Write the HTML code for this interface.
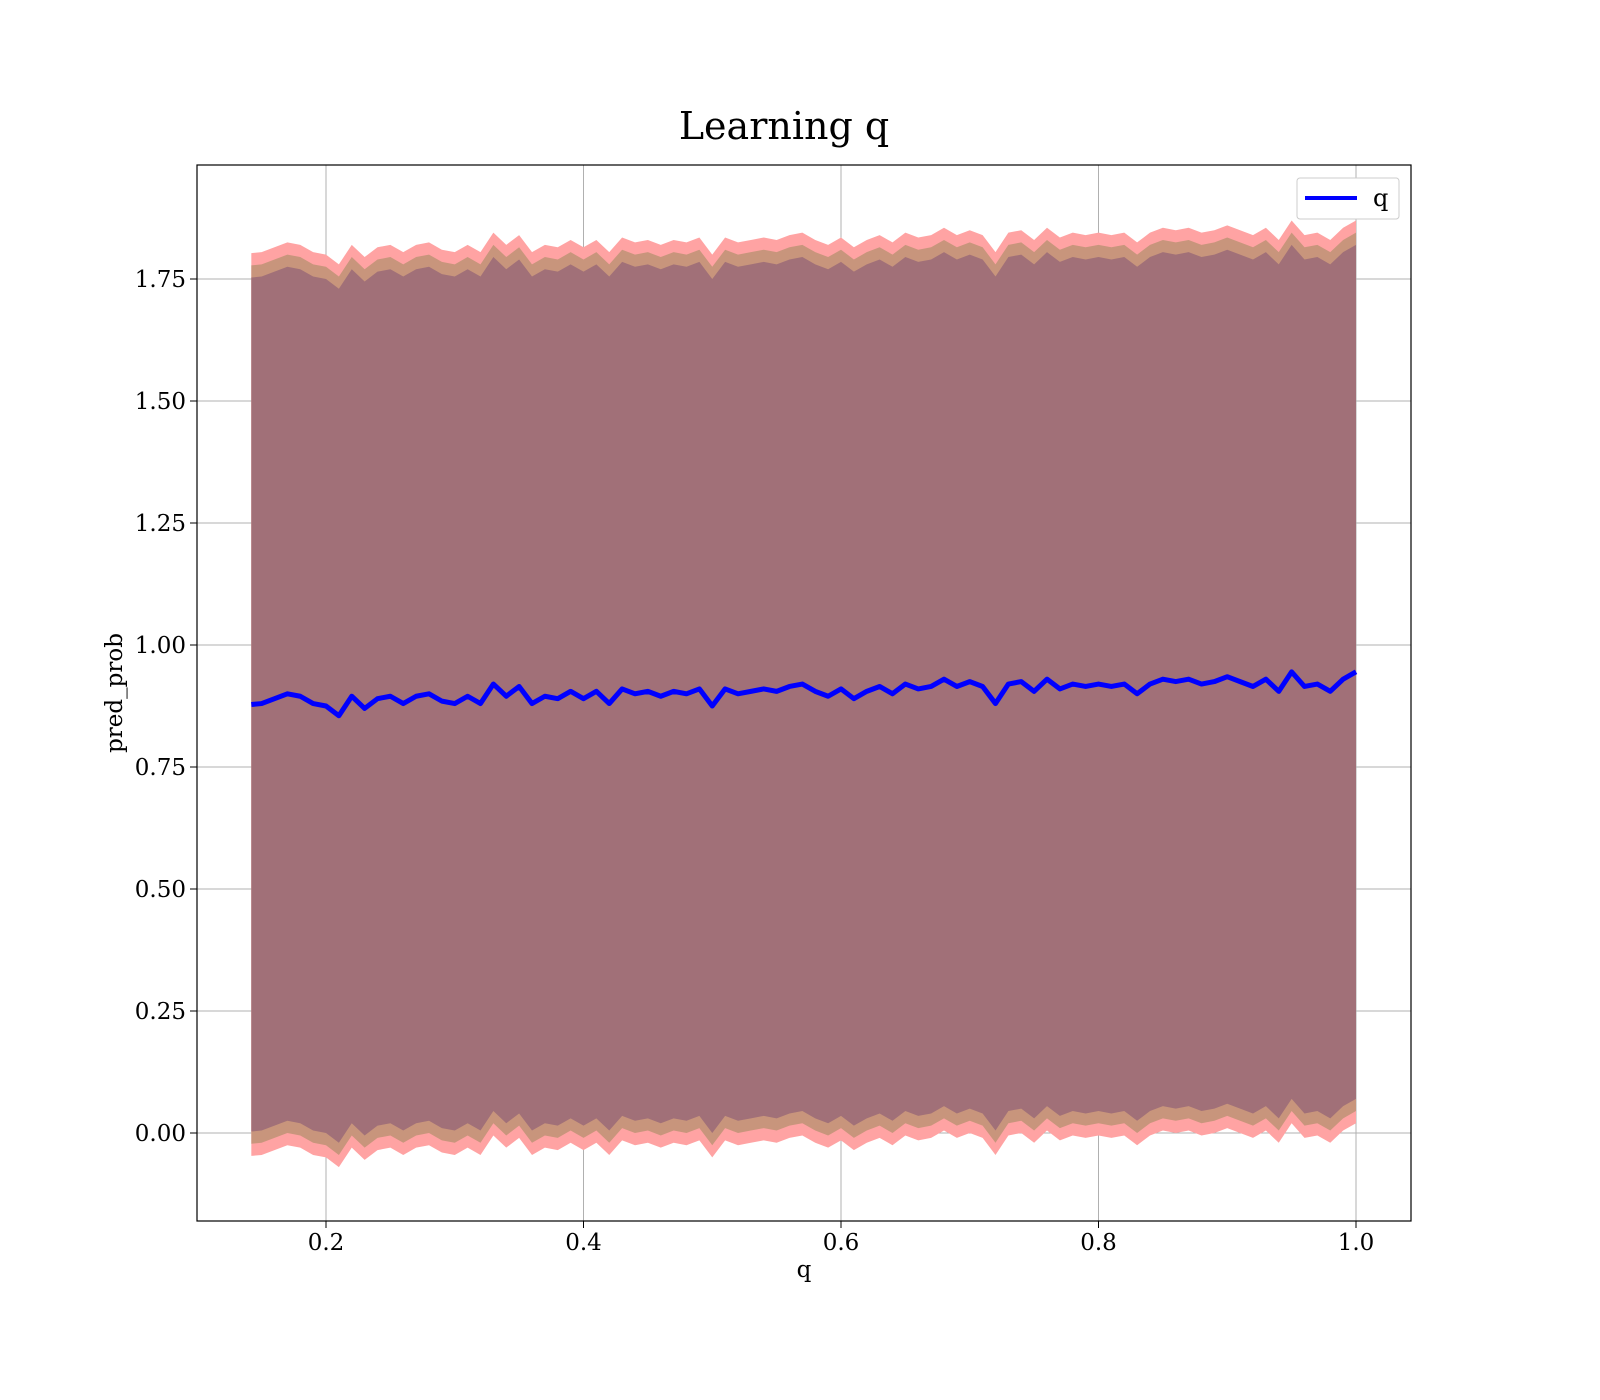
<!DOCTYPE html>
<html><head><meta charset="utf-8"><style>
body{margin:0;background:#fff}
svg{display:block;font-family:"DejaVu Serif","Liberation Serif",serif}
</style></head><body>
<svg id="chart" width="1600" height="1400">
<text x="784" y="139" font-size="38" text-anchor="middle">Learning q</text>
<g id="grid"></g>
<g id="bands"></g>
<g id="lines"></g>
<rect x="197" y="165" width="1214" height="1056" fill="none" stroke="#000" stroke-width="1.2"/>
<g id="ticks"></g>
<text x="804" y="1277" font-size="23" text-anchor="middle">q</text>
<text transform="translate(122,693) rotate(-90)" font-size="23" text-anchor="middle">pred_prob</text>
<g>
<rect x="1297" y="178" width="102" height="41" rx="3" fill="#fff" stroke="#ccc"/>
<line x1="1305" y1="198" x2="1357" y2="198" stroke="#0000ff" stroke-width="4"/>
<text x="1373" y="206" font-size="24">q</text>
</g>
</svg>
<script>
const qValues=[0.142,0.15,0.16,0.17,0.18,0.19,0.20,0.21,0.22,0.23,0.24,0.25,0.26,0.27,0.28,0.29,0.30,0.31,0.32,0.33,0.34,0.35,0.36,0.37,0.38,0.39,0.40,0.41,0.42,0.43,0.44,0.45,0.46,0.47,0.48,0.49,0.50,0.51,0.52,0.53,0.54,0.55,0.56,0.57,0.58,0.59,0.60,0.61,0.62,0.63,0.64,0.65,0.66,0.67,0.68,0.69,0.70,0.71,0.72,0.73,0.74,0.75,0.76,0.77,0.78,0.79,0.80,0.81,0.82,0.83,0.84,0.85,0.86,0.87,0.88,0.89,0.90,0.91,0.92,0.93,0.94,0.95,0.96,0.97,0.98,0.99,1.00];
const predValues=[0.878,0.88,0.89,0.90,0.895,0.88,0.875,0.855,0.895,0.87,0.89,0.895,0.88,0.895,0.90,0.885,0.88,0.895,0.88,0.92,0.895,0.915,0.88,0.895,0.89,0.905,0.89,0.905,0.88,0.91,0.90,0.905,0.895,0.905,0.90,0.91,0.875,0.91,0.90,0.905,0.91,0.905,0.915,0.92,0.905,0.895,0.91,0.89,0.905,0.915,0.90,0.92,0.91,0.915,0.93,0.915,0.925,0.915,0.88,0.92,0.925,0.905,0.93,0.91,0.92,0.915,0.92,0.915,0.92,0.90,0.92,0.93,0.925,0.93,0.92,0.925,0.935,0.925,0.915,0.93,0.905,0.945,0.915,0.92,0.905,0.93,0.945];
const bandOffsets=[0.925,0.90,0.875];
const bandColors=["#ffa3a3","#c8957c","#a17078"];
const xTicks=[0.2,0.4,0.6,0.8,1.0];
const xTickLabels=["0.2","0.4","0.6","0.8","1.0"];
const yTicks=[0,0.25,0.5,0.75,1.0,1.25,1.5,1.75];
const yTickLabels=["0.00","0.25","0.50","0.75","1.00","1.25","1.50","1.75"];
const NS="http://www.w3.org/2000/svg";
const X=v=>326+(v-0.2)*1287.5;
const Y=v=>1133-v*488;
function mk(t,a,p){const e=document.createElementNS(NS,t);for(const k in a)e.setAttribute(k,a[k]);p.appendChild(e);return e;}
const grid=document.getElementById('grid'),ticks=document.getElementById('ticks');
xTicks.forEach((v,i)=>{
 const g=mk('line',{x1:X(v),x2:X(v),y1:165,y2:1221,stroke:'#b0b0b0','stroke-width':1},grid);
 
 
 const t=mk('line',{x1:X(v),x2:X(v),y1:1221,y2:1228,stroke:'#000'},ticks);
 
 
 const l=mk('text',{x:X(v),y:1250,'font-size':23,'text-anchor':'middle'},ticks);l.textContent=xTickLabels[i];
 
 
});
yTicks.forEach((v,i)=>{
 const g=mk('line',{x1:197,x2:1411,y1:Y(v),y2:Y(v),stroke:'#b0b0b0','stroke-width':1},grid);
 
 
 const t=mk('line',{x1:190,x2:197,y1:Y(v),y2:Y(v),stroke:'#000'},ticks);
 
 
 const l=mk('text',{x:186,y:Y(v)+8,'font-size':23,'text-anchor':'end'},ticks);l.textContent=yTickLabels[i];
 
 
});
const bands=document.getElementById('bands');
bandOffsets.forEach((o,bi)=>{
 let up=qValues.map((q,i)=>X(q)+','+Y(predValues[i]+o));
 let lo=qValues.map((q,i)=>X(q)+','+Y(predValues[i]-o)).reverse();
 const p=mk('polygon',{points:up.concat(lo).join(' '),fill:bandColors[bi]},bands);
 
 
});
const ln=mk('polyline',{points:qValues.map((q,i)=>X(q)+','+Y(predValues[i])).join(' '),fill:'none',stroke:'#0000ff','stroke-width':5,'stroke-linejoin':'round'},document.getElementById('lines'));


</script>
</body></html>
